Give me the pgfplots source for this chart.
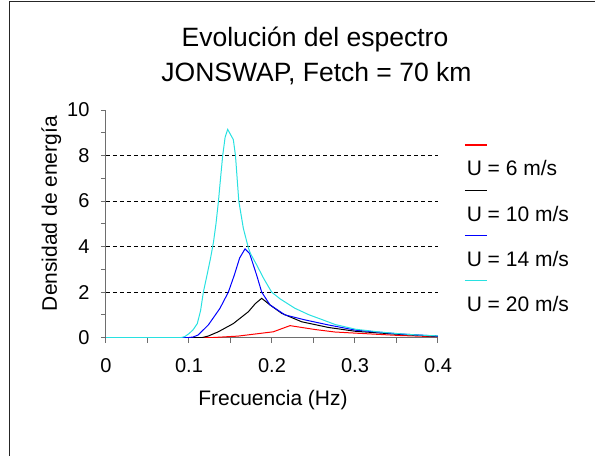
\documentclass[border=0pt]{standalone}
\usepackage{pgfplots}
\pgfplotsset{compat=1.18}
\usepackage{fontspec}
\setmainfont{Liberation Sans}
\definecolor{cyanline}{RGB}{40,225,225}
\definecolor{axgray}{RGB}{110,110,110}
\begin{document}
\begin{tikzpicture}
\path[use as bounding box] (0pt,0pt) rectangle (595pt,-456pt);
\draw[black!85, line width=1pt] (9.5pt,-456pt) -- (9.5pt,-1.5pt) -- (595pt,-1.5pt);
\node[anchor=base, font=\fontsize{26.5}{30}\selectfont, inner sep=0pt] at (315pt,-46.7pt) {Evolución del espectro};
\node[anchor=base, font=\fontsize{26.5}{30}\selectfont, inner sep=0pt] at (316.5pt,-81.7pt) {JONSWAP, Fetch = 70 km};
\begin{axis}[
  at={(106pt,-337.7pt)}, anchor=south west,
  scale only axis, width=332pt, height=227.7pt,
  xmin=0, xmax=0.4, ymin=0, ymax=10,
  axis x line*=bottom, axis y line*=left,
  axis line style={axgray, line width=1pt},
  every tick/.style={axgray, line width=1pt},
  tick align=outside,
  major tick length=5pt, minor tick length=5pt,
  xtick={0,0.1,0.2,0.3,0.4},
  xticklabels={0,0.1,0.2,0.3,0.4},
  minor xtick={0.05,0.15,0.25,0.35},
  ytick={0,2,4,6,8,10},
  minor ytick={1,3,5,7,9},
  extra y ticks={2,4,6,8},
  extra y tick labels={},
  extra y tick style={grid=major, major tick length=0pt},
  major grid style={black, line width=0.9pt, dash pattern=on 4pt off 3pt},
  tick label style={font=\fontsize{20}{24}\selectfont},
  xticklabel style={yshift=-12pt},
  yticklabel style={xshift=-8pt},
  /pgf/number format/assume math mode=true,
  xlabel={Frecuencia (Hz)},
  ylabel={Densidad de energía},
  label style={font=\fontsize{21}{25}\selectfont},
  xlabel style={at={(axis description cs:0.503,-0.2956)}, anchor=base},
  ylabel style={at={(axis description cs:-0.165,0.545)}, anchor=center},
  legend cell align=left,
  legend image code/.code={\draw[#1, line width=1.2pt, overlay] (0pt,24pt) -- (22pt,24pt);},
  legend style={draw=none, fill=none, font=\fontsize{21}{25}\selectfont,
    at={(axis description cs:1.08,0.787)}, anchor=north west, row sep=24.5pt,
    inner sep=0pt},
]
\addplot[red, line width=1pt] coordinates {
(0,0) (0.125,0) (0.159,0.07) (0.2016,0.26) (0.2217,0.53) (0.2518,0.36) (0.276,0.25)
(0.301,0.2) (0.352,0.1) (0.4,0.04)};
\addlegendentry{U = 6 m/s}
\addplot[black, line width=1pt] coordinates {
(0,0) (0.115,0) (0.123,0.07) (0.1353,0.26) (0.1534,0.62) (0.1715,1.14) (0.18,1.5)
(0.1876,1.73) (0.1976,1.44) (0.2117,1.07) (0.2357,0.70) (0.268,0.45) (0.301,0.28)
(0.352,0.15) (0.4,0.06)};
\addlegendentry{U = 10 m/s}
\addplot[blue, line width=1pt] coordinates {
(0,0) (0.098,0) (0.105,0.03) (0.111,0.12) (0.1233,0.56) (0.1373,1.29) (0.1474,2.0)
(0.1546,2.75) (0.161,3.5) (0.1675,3.9) (0.173,3.7) (0.1815,2.75) (0.1876,2.0)
(0.1976,1.44) (0.2157,1.0) (0.24,0.78) (0.268,0.56) (0.301,0.33) (0.352,0.17) (0.4,0.07)};
\addlegendentry{U = 14 m/s}
\addplot[cyanline, line width=1pt] coordinates {
(0,0) (0.09,0) (0.095,0.05) (0.10,0.18) (0.105,0.35) (0.11,0.62) (0.114,1.2)
(0.1173,2.0) (0.122,2.8) (0.126,3.5) (0.1295,4.2) (0.1325,5.0) (0.1355,6.0)
(0.138,7.0) (0.1406,8.0) (0.1435,8.8) (0.1466,9.15) (0.1534,8.7) (0.156,8.0)
(0.160,6.0) (0.1655,4.8) (0.1715,3.95) (0.174,3.7) (0.1815,3.2) (0.19,2.6)
(0.1996,2.0) (0.21,1.7) (0.2277,1.29) (0.245,1.0) (0.26,0.8) (0.276,0.58)
(0.301,0.37) (0.33,0.25) (0.352,0.18) (0.375,0.12) (0.4,0.08)};
\addlegendentry{U = 20 m/s}
\end{axis}
\end{tikzpicture}
\end{document}
